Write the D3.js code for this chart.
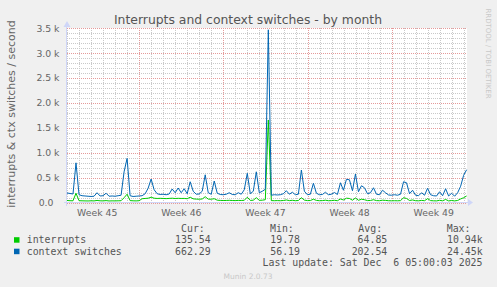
<!DOCTYPE html>
<html>
<head>
<meta charset="utf-8">
<script src="https://cdn.jsdelivr.net/npm/d3@7"></script>
<style>
  body { margin: 0; background: #f0f0f0; }
  svg { display: block; }
</style>
</head>
<body>
<div id="chart"></div>
<script>
// values (one sample every 6 hours)
var interrupts = [45, 40, 38, 190, 40, 38, 36, 35, 38, 36, 45, 38, 36, 42, 35, 37, 36, 38, 40, 100,
    170, 42, 38, 36, 40, 80, 85, 90, 110, 90, 85, 88, 85, 82, 86, 90, 84, 88, 85, 86,
    80, 110, 78, 72, 70, 74, 120, 72, 70, 80, 50, 46, 44, 45, 48, 44, 42, 46, 44, 48,
    110, 46, 50, 100, 48, 50, 60, 1660, 42, 40, 42, 40, 44, 55, 42, 48, 40, 44, 100, 52,
    42, 44, 70, 46, 40, 42, 50, 40, 42, 48, 40, 75, 55, 90, 85, 50, 95, 48, 70, 60,
    42, 45, 60, 42, 40, 50, 46, 40, 38, 40, 38, 42, 100, 85, 44, 55, 40, 38, 46, 40,
    80, 42, 38, 36, 48, 38, 65, 36, 44, 36, 45, 75, 100, 135];

var ctxSwitches = [195, 185, 175, 800, 160, 140, 135, 130, 125, 130, 200, 135, 140, 190, 130, 135, 130, 140, 150, 620,
    890, 140, 125, 130, 135, 140, 180, 290, 475, 260, 180, 165, 170, 160, 175, 275, 200, 295, 200, 280,
    180, 420, 230, 170, 175, 230, 560, 200, 170, 435, 190, 165, 160, 170, 200, 165, 160, 200, 170, 260,
    590, 180, 230, 620, 200, 230, 270, 3470, 150, 160, 155, 160, 180, 240, 170, 210, 160, 170, 656, 230,
    160, 170, 390, 190, 160, 165, 210, 160, 170, 205, 165, 400, 250, 470, 460, 240, 576, 220, 340, 300,
    180, 200, 300, 170, 160, 250, 200, 155, 150, 160, 150, 170, 420, 400, 180, 250, 150, 140, 200, 150,
    290, 160, 140, 135, 220, 140, 280, 135, 190, 130, 200, 330, 550, 662];

var yTicks = [0, 500, 1000, 1500, 2000, 2500, 3000, 3500];
var seriesNames = ['interrupts', 'context switches'];
var seriesColors = ['#00cc00', '#0066b3'];
var legendHeaders = ['Cur:', 'Min:', 'Avg:', 'Max:'];
var interruptsStats = ['135.54', '19.78', '64.85', '10.94k'];
var ctxStats = ['662.29', '56.19', '202.54', '24.45k'];
var lastUpdate = 'Last update: Sat Dec  6 05:00:03 2025';

var startTime = new Date(Date.UTC(2025, 10, 3, 23, 40));
var stepHours = 6;
var spanDays = 33.28;
var endTime = new Date(startTime.getTime() + spanDays * 864e5);

var W = 497, H = 287;
var plot = { left: 67, right: 467, top: 28, bottom: 203 };

var svg = d3.select('#chart').append('svg')
    .attr('width', W)
    .attr('height', H)
    .style('font-family', 'DejaVu Sans, sans-serif');

svg.append('rect').attr('width', W).attr('height', H).attr('fill', '#f0f0f0');

var xScale = d3.scaleUtc().domain([startTime, endTime]).range([plot.left, plot.right]);
var yScale = d3.scaleLinear().domain([0, 3500]).range([202.7, 28.3]);

function px(v) { return Math.round(v) + 0.5; }

// canvas
svg.append('rect')
    .attr('x', plot.left).attr('y', plot.top)
    .attr('width', plot.right - plot.left).attr('height', plot.bottom - plot.top)
    .attr('fill', '#ffffff');

var grid = svg.append('g').attr('shape-rendering', 'crispEdges');
var minorColor = '#c9c9c9', majorColor = '#e59a9a';

function hLines(data, color) {
    grid.append('g').selectAll('line').data(data).enter().append('line')
        .attr('x1', plot.left).attr('x2', plot.right)
        .attr('y1', function (d) { return px(yScale(d)); })
        .attr('y2', function (d) { return px(yScale(d)); })
        .attr('stroke', color).attr('stroke-dasharray', '1,1');
}

function vLines(data, color) {
    grid.append('g').selectAll('line').data(data).enter().append('line')
        .attr('y1', plot.top).attr('y2', plot.bottom)
        .attr('x1', function (d) { return px(xScale(d)); })
        .attr('x2', function (d) { return px(xScale(d)); })
        .attr('stroke', color).attr('stroke-dasharray', '1,1');
}

// minor grid: every 100 and every day
hLines(d3.range(0, 3501, 100).filter(function (d) { return d % 500 !== 0; }), minorColor);
vLines(d3.utcDay.range(startTime, endTime).filter(function (d) { return d.getUTCDay() !== 1; }), minorColor);

// major grid: every 500 and every monday
hLines(yTicks, majorColor);
vLines(d3.utcMonday.range(startTime, endTime), majorColor);

// series
var line = d3.line()
    .x(function (d, i) { return xScale(new Date(startTime.getTime() + i * stepHours * 36e5)); })
    .y(function (d) { return yScale(d); });

[interrupts, ctxSwitches].forEach(function (s, k) {
    svg.append('path')
        .datum(s)
        .attr('d', line)
        .attr('fill', 'none')
        .attr('stroke', seriesColors[k])
        .attr('stroke-width', 1);
});

// axes
var axisColor = '#cfd6f8';
svg.append('line').attr('x1', 64).attr('x2', 470)
    .attr('y1', px(plot.bottom) - 1).attr('y2', px(plot.bottom) - 1)
    .attr('stroke', axisColor);
svg.append('line').attr('x1', px(plot.left) - 1).attr('x2', px(plot.left) - 1)
    .attr('y1', 206).attr('y2', 25)
    .attr('stroke', axisColor);
svg.append('path').attr('d', 'M468,199L473,202.5L468,206Z').attr('fill', axisColor);
svg.append('path').attr('d', 'M63.5,27L67,21L70.5,27Z').attr('fill', axisColor);

// y tick labels
svg.selectAll('.ylab').data(yTicks).enter().append('text')
    .attr('x', function (d) { return d === 0 ? 53.5 : 59.5; })
    .attr('y', function (d) { return yScale(d) + 3.3; })
    .attr('text-anchor', 'end')
    .attr('font-size', '9.3px')
    .attr('fill', '#666')
    .text(function (d) { return d === 0 ? '0.0' : (d / 1000).toFixed(1) + ' k'; });

// week labels, centred on each week
var weekStarts = d3.utcMonday.range(d3.utcMonday.floor(startTime), endTime)
    .filter(function (d) { return d3.utcHour.offset(d, 84) < endTime; });
svg.selectAll('.xlab').data(weekStarts).enter().append('text')
    .attr('x', function (d) { return xScale(d3.utcHour.offset(d, 84)); })
    .attr('y', 215.5)
    .attr('text-anchor', 'middle')
    .attr('font-size', '9.3px')
    .attr('fill', '#666')
    .text(function (d) { return 'Week ' + d3.utcFormat('%V')(d); });

// title and side texts
svg.append('text').attr('x', 248).attr('y', 23.5)
    .attr('text-anchor', 'middle').attr('font-size', '12.4px').attr('fill', '#555')
    .text('Interrupts and context switches - by month');

svg.append('text').attr('transform', 'translate(14.5,114) rotate(-90)')
    .attr('text-anchor', 'middle').attr('font-size', '11px').attr('fill', '#666')
    .text('interrupts & ctx switches / second');

svg.append('text').attr('transform', 'translate(486,53.5) rotate(90)')
    .attr('text-anchor', 'middle').attr('font-size', '7px').attr('fill', '#c8c8c8')
    .text('RRDTOOL / TOBI OETIKER');

// legend
var mono = 'DejaVu Sans Mono, monospace';
var headerX = [181, 270, 358.3, 446.7];
var valueX = [210.7, 300, 387.3, 482.7];

svg.selectAll('.hdr').data(legendHeaders).enter().append('text')
    .attr('x', function (d, i) { return headerX[i]; })
    .attr('y', 231.5)
    .attr('font-family', mono).attr('font-size', '9.9px').attr('fill', '#555')
    .text(function (d) { return d; });

[interruptsStats, ctxStats].forEach(function (stats, k) {
    var y = 243 + k * 11.5;
    svg.append('rect').attr('x', 14).attr('y', y - 5.8)
        .attr('width', 5.5).attr('height', 5.5).attr('fill', seriesColors[k]);
    svg.append('text').attr('x', 26.7).attr('y', y)
        .attr('font-family', mono).attr('font-size', '9.9px').attr('fill', '#555')
        .text(seriesNames[k]);
    svg.selectAll('.val' + k).data(stats).enter().append('text')
        .attr('x', function (d, i) { return valueX[i]; })
        .attr('y', y)
        .attr('text-anchor', 'end')
        .attr('font-family', mono).attr('font-size', '9.9px').attr('fill', '#555')
        .text(function (d) { return d; });
});

svg.append('text').attr('x', 482.5).attr('y', 266)
    .attr('text-anchor', 'end').attr('xml:space', 'preserve')
    .style('white-space', 'pre')
    .attr('font-family', mono).attr('font-size', '9.9px').attr('fill', '#555')
    .text(lastUpdate);

svg.append('text').attr('x', 248).attr('y', 279)
    .attr('text-anchor', 'middle').attr('font-size', '7.5px').attr('fill', '#c8c8c8')
    .text('Munin 2.0.73');
</script>
</body>
</html>
